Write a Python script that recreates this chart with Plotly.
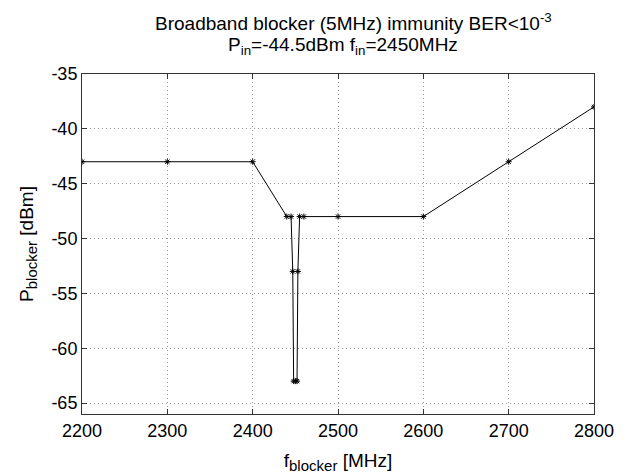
import plotly.graph_objects as go

# Blocker frequency (MHz) and the blocker power (dBm) at which BER reaches 1e-3
f_blocker = [2200, 2300, 2400, 2440, 2445, 2447, 2448, 2450, 2452, 2453, 2455, 2460, 2500, 2600, 2700, 2800]
p_blocker = [-43, -43, -43, -48, -48, -53, -63, -63, -63, -53, -48, -48, -48, -48, -43, -38]

x_ticks = [2200, 2300, 2400, 2500, 2600, 2700, 2800]
y_ticks = [-65, -60, -55, -50, -45, -40, -35]
y_tick_text = ["-65", "-60", "-55", "-50", "-45", "-40", "-35"]

title_line1 = "Broadband blocker (5MHz) immunity BER<10<sup>-3</sup>"
title_line2 = "P<sub>in</sub>=-44.5dBm f<sub>in</sub>=2450MHz"
x_title = "f<sub><span style='font-size:15px'>blocker</span></sub> [MHz]"
y_title = "P<sub><span style='font-size:15px'>blocker</span></sub> [dBm]"

FONT = "Liberation Sans, Arial, sans-serif"

fig = go.Figure()
fig.add_trace(go.Scatter(
    x=f_blocker, y=p_blocker,
    mode="lines+markers",
    line=dict(color="black", width=1),
    marker=dict(symbol="asterisk-open", size=5, color="black",
                line=dict(color="black", width=1)),
    showlegend=False,
))

axis_common = dict(
    showline=True, linecolor="#333", linewidth=1, mirror="ticks",
    ticks="inside", ticklen=5, tickcolor="#333",
    showgrid=True, gridcolor="#9a9a9a", griddash="1px,3px", gridwidth=1,
    zeroline=False, automargin=False,
    tickfont=dict(family=FONT, size=18, color="black"),
)

fig.update_xaxes(range=[2200, 2800], tickvals=x_ticks,
                 title=dict(text=x_title,
                            font=dict(family=FONT, size=19, color="black"),
                            standoff=14),
                 **axis_common)
fig.update_yaxes(range=[-66, -35], tickvals=y_ticks, ticktext=y_tick_text,
                 title=dict(text=y_title,
                            font=dict(family=FONT, size=19, color="black"),
                            standoff=12),
                 **axis_common)

# Two-line heading, set as separate annotations for tight line spacing
title_font = dict(family=FONT, size=19, color="black")
fig.add_annotation(text=title_line1, xref="paper", yref="paper",
                   x=0.53, y=1.152, xanchor="center", yanchor="middle",
                   showarrow=False, font=title_font)
fig.add_annotation(text=title_line2, xref="paper", yref="paper",
                   x=0.51, y=1.082, xanchor="center", yanchor="middle",
                   showarrow=False, font=title_font)

fig.update_layout(
    width=633, height=475,
    margin=dict(l=82, r=39, t=74, b=61),
    paper_bgcolor="white", plot_bgcolor="white",
)

fig.write_html("out.html")
